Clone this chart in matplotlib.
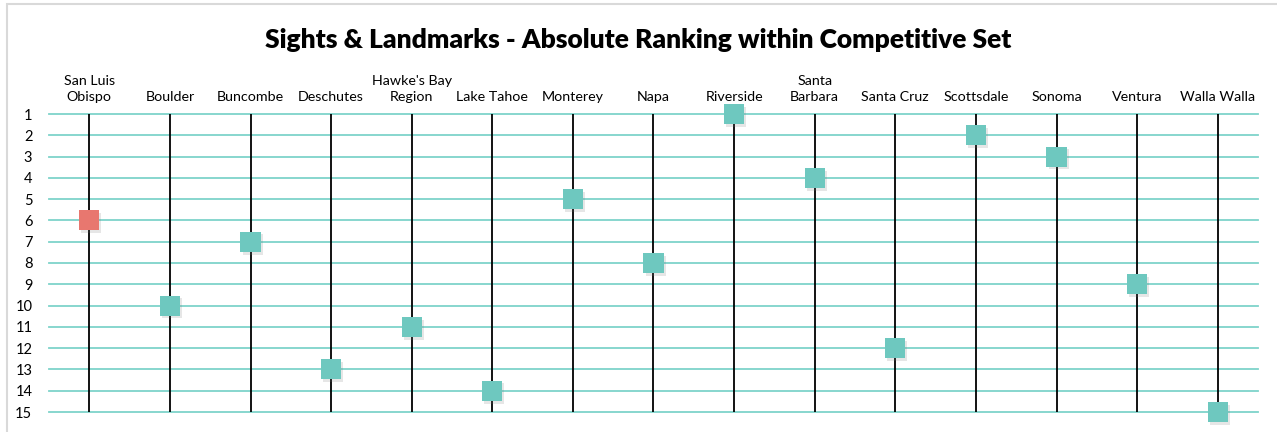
import matplotlib
matplotlib.use("Agg")
import matplotlib.pyplot as plt
from matplotlib.patches import Rectangle
import matplotlib.patheffects as pe

categories = ["San Luis\nObispo", "Boulder", "Buncombe", "Deschutes", "Hawke's Bay\nRegion",
              "Lake Tahoe", "Monterey", "Napa", "Riverside", "Santa\nBarbara",
              "Santa Cruz", "Scottsdale", "Sonoma", "Ventura", "Walla Walla"]
ranks = [6, 10, 7, 13, 11, 14, 5, 8, 1, 4, 12, 2, 3, 9, 15]
highlight = "San Luis\nObispo"
rank_ticks = list(range(1, 16))

teal = "#6EC8BF"
grid_teal = "#7ED3CA"
red = "#E8776F"

plt.rcParams['font.family'] = ['Lato', 'DejaVu Sans']

fig = plt.figure(figsize=(12.77, 4.32), dpi=100)
fig.patches.append(Rectangle((7/1277, -0.1), 1.2, (1 - 4/432) + 0.1,
                             transform=fig.transFigure, fill=False,
                             edgecolor="#D9D9D9", linewidth=1.5))

ax = fig.add_axes([49/1277, 1 - 412/432, (1258 - 49)/1277, (412 - 114)/432])
x = list(range(len(categories)))
ax.set_xlim(-0.5, len(categories) - 0.5)
ax.set_ylim(15, 1)

for r in rank_ticks:
    ax.axhline(r, color=grid_teal, linewidth=1.3, zorder=1, clip_on=False)
ax.vlines(x, 1, 15, color="black", linewidth=1.3, zorder=2)

colors = [red if c == highlight else teal for c in categories]
ax.scatter(x, ranks, marker="s", s=210, c=colors, zorder=3, clip_on=False,
           linewidths=0,
           path_effects=[pe.SimplePatchShadow(offset=(1.5, -2), shadow_rgbFace="#777777", alpha=0.18),
                         pe.Normal()])

for s in ax.spines.values():
    s.set_visible(False)
ax.set_yticks(rank_ticks)
ax.set_yticklabels([str(r) for r in rank_ticks], fontsize=10.5)
ax.tick_params(axis='y', length=0, pad=12)
ax.set_xticks(x)
ax.set_xticklabels(categories, fontsize=10.3, linespacing=1.35)
ax.xaxis.tick_top()
ax.tick_params(axis='x', length=0, pad=8)

fig.text(0.5, 1 - 40/432, "Sights & Landmarks - Absolute Ranking within Competitive Set",
         ha="center", va="center", fontsize=19, fontweight="heavy")

fig.savefig("out.png", dpi=100)
